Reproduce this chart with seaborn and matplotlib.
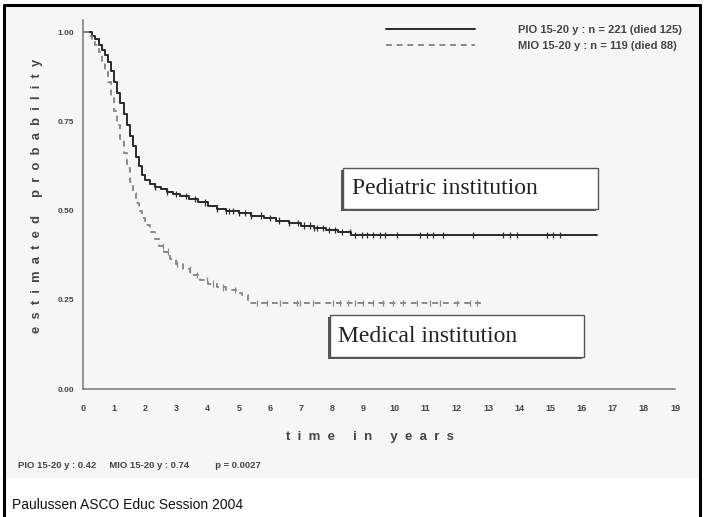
#import libraries
import numpy as np
import pandas as pd
import matplotlib
matplotlib.use("Agg")
import matplotlib.pyplot as plt
from matplotlib.patches import Rectangle
from matplotlib.lines import Line2D
import seaborn as sns

#survival curves (step functions)
ped_label = "PIO 15-20 y : n = 221 (died 125)"
med_label = "MIO 15-20 y : n = 119 (died 88)"

ped_time = [0, 0.3, 0.4, 0.5, 0.6, 0.7, 0.8, 0.9, 1.0, 1.1, 1.2, 1.3, 1.4, 1.5,
            1.6, 1.7, 1.8, 1.9, 2.0, 2.15, 2.3, 2.5, 2.7, 2.9, 3.1, 3.4, 3.7,
            4.0, 4.3, 4.6, 5.0, 5.4, 5.8, 6.2, 6.6, 7.0, 7.4, 7.8, 8.2, 8.6, 16.5]
ped_prob = [1.0, 0.99, 0.98, 0.965, 0.95, 0.935, 0.915, 0.89, 0.86, 0.83, 0.80,
            0.77, 0.74, 0.71, 0.68, 0.65, 0.625, 0.60, 0.585, 0.575, 0.567, 0.56,
            0.553, 0.546, 0.54, 0.532, 0.523, 0.513, 0.505, 0.498, 0.493, 0.486,
            0.479, 0.472, 0.465, 0.458, 0.451, 0.445, 0.44, 0.432, 0.432]

med_time = [0, 0.2, 0.3, 0.4, 0.5, 0.6, 0.7, 0.8, 0.9, 1.0, 1.1, 1.2, 1.3, 1.4,
            1.5, 1.6, 1.7, 1.8, 1.9, 2.0, 2.15, 2.3, 2.45, 2.6, 2.8, 3.0, 3.2,
            3.45, 3.75, 4.0, 4.3, 4.6, 4.9, 5.1, 5.3, 12.8]
med_prob = [1.0, 0.99, 0.98, 0.965, 0.945, 0.92, 0.89, 0.86, 0.82, 0.78, 0.74,
            0.70, 0.66, 0.62, 0.58, 0.55, 0.52, 0.50, 0.48, 0.46, 0.44, 0.42,
            0.40, 0.385, 0.365, 0.35, 0.335, 0.32, 0.305, 0.295, 0.285, 0.277,
            0.27, 0.262, 0.241, 0.241]

#censored observations
ped_censor = [2.3, 2.7, 3.0, 3.3, 3.6, 3.9, 4.3, 4.6, 4.7, 4.8, 5.0, 5.2, 5.4,
              5.7, 6.0, 6.3, 6.6, 6.9, 7.1, 7.3, 7.4, 7.5, 7.7, 7.9, 8.1, 8.3,
              8.57, 8.73, 8.95, 9.11, 9.31, 9.53, 9.69, 10.08, 10.81, 11.04,
              11.23, 11.55, 12.51, 13.48, 13.7, 13.93, 14.89, 15.08, 15.31]
med_censor = [2.57, 2.73, 3.02, 3.43, 3.66, 3.98, 4.17, 4.49, 4.88, 5.58, 5.9,
              6.32, 6.87, 6.96, 7.38, 8.02, 8.25, 8.5, 8.73, 8.99, 9.31, 9.63,
              9.95, 10.27, 10.72, 11.14, 11.46, 12.0, 12.42, 12.64]

x_ticks = list(range(0, 20))
y_ticks = [0.0, 0.25, 0.5, 0.75, 1.0]

#build tables
curves = pd.concat([
    pd.DataFrame({"t": ped_time, "p": ped_prob, "group": ped_label}),
    pd.DataFrame({"t": med_time, "p": med_prob, "group": med_label}),
])

def step_value(times, probs, at):
    idx = np.searchsorted(times, at, side="right") - 1
    return np.array(probs)[idx]

censors = pd.concat([
    pd.DataFrame({"t": ped_censor, "p": step_value(ped_time, ped_prob, ped_censor), "group": ped_label}),
    pd.DataFrame({"t": med_censor, "p": step_value(med_time, med_prob, med_censor), "group": med_label}),
])

def spaced(s, gap="  ", word_gap="     "):
    return word_gap.join(gap.join(w) for w in s.split(" "))

W, H = 706, 517
sns.set_style("white")
plt.rcParams["font.family"] = ["Liberation Sans", "DejaVu Sans"]

fig = plt.figure(figsize=(W / 100, H / 100), dpi=100, facecolor="white")

def fx(px):
    return px / W

def fy(py):
    return 1 - py / H

#faint grey background of the scanned slide
fig.add_artist(Rectangle((fx(5), fy(478)), fx(695), 473 / H, transform=fig.transFigure,
                         facecolor="#f6f6f6", edgecolor="none", zorder=0))

ax = fig.add_axes([fx(83), fy(389), fx(675 - 83), (389 - 19.9) / H])
ax.set_facecolor("none")

palette = {ped_label: "#2a2a2a", med_label: "#8a8a8a"}
sns.lineplot(data=curves, x="t", y="p", hue="group", style="group",
             palette=palette, dashes={ped_label: "", med_label: (3, 2.5)},
             estimator=None, drawstyle="steps-post", linewidth=1.4, ax=ax)
sns.scatterplot(data=censors, x="t", y="p", hue="group", palette=palette,
                marker="|", s=22, linewidth=0.9, legend=False, ax=ax)

ax.set_xlim(0, 19)
ax.set_ylim(0, 1.034)
ax.set_xticks(x_ticks)
ax.set_xticklabels([str(v) for v in x_ticks])
ax.set_yticks(y_ticks)
ax.set_yticklabels([f"{v:.2f}" for v in y_ticks])
ax.set_xlabel("")
ax.set_ylabel("")
for s in ["top", "right"]:
    ax.spines[s].set_visible(False)
for s in ["left", "bottom"]:
    ax.spines[s].set_color("#777777")
    ax.spines[s].set_linewidth(1.1)
ax.tick_params(axis="x", direction="out", length=5, width=0.8, color="#888888",
               pad=6, labelsize=6.5, labelcolor="#444444")
ax.tick_params(axis="y", direction="out", length=5, width=0.8, color="#888888",
               pad=1.5, labelsize=6, labelcolor="#444444")
for lab in ax.get_xticklabels() + ax.get_yticklabels():
    lab.set_fontweight("bold")

#legend at top right
leg = ax.legend(loc="upper right", bbox_to_anchor=(fx(682), fy(25)),
                bbox_transform=fig.transFigure, frameon=False, fontsize=8,
                handlelength=8.0, handletextpad=3.9, labelspacing=0.5,
                borderpad=0, borderaxespad=0)
for t in leg.get_texts():
    t.set_fontweight("bold")
    t.set_color("#444444")

#axis titles (letter spaced)
fig.text(fx(370), fy(437), spaced("time in years"), ha="center", va="center",
         fontsize=9.5, fontweight="bold", color="#444444")
fig.text(fx(37), fy(196), spaced("estimated probability"), rotation=90,
         ha="center", va="center", fontsize=9.3, fontweight="bold", color="#444444")
fig.text(fx(18), fy(465), "PIO 15-20 y : 0.42     MIO 15-20 y : 0.74          p = 0.0027",
         ha="left", va="center", fontsize=6.8, fontweight="bold", color="#444444")

#annotation boxes
def label_box(x0, y0, x1, y1, text, tx):
    fig.add_artist(Rectangle((fx(x0 - 2), fy(y1 + 2)), fx(x1 - x0), (y1 - y0) / H,
                             transform=fig.transFigure, facecolor="#555555",
                             edgecolor="none", zorder=5))
    fig.add_artist(Rectangle((fx(x0), fy(y1)), fx(x1 - x0), (y1 - y0) / H,
                             transform=fig.transFigure, facecolor="white",
                             edgecolor="#555555", linewidth=1.0, zorder=6))
    fig.text(fx(tx), fy((y0 + y1) / 2), text, ha="left", va="center",
             fontsize=17, family="Liberation Serif", color="#222222", zorder=7)

label_box(343, 168, 598, 209, "Pediatric institution", 352)
label_box(330, 315, 584, 357, "Medical institution", 338)

#slide frame and caption
for xs, ys in [([4, 4], [517, 5]), ([4, 700], [5, 5]), ([700, 700], [5, 517])]:
    fig.add_artist(Line2D([fx(v) for v in xs], [fy(v) for v in ys],
                          transform=fig.transFigure, color="black", linewidth=2.2))
fig.text(fx(12), fy(505), "Paulussen ASCO Educ Session 2004", ha="left", va="center",
         fontsize=10, family=["Liberation Sans Narrow", "Liberation Sans"], color="#111111")

fig.savefig("out.png", dpi=100, facecolor="white")
